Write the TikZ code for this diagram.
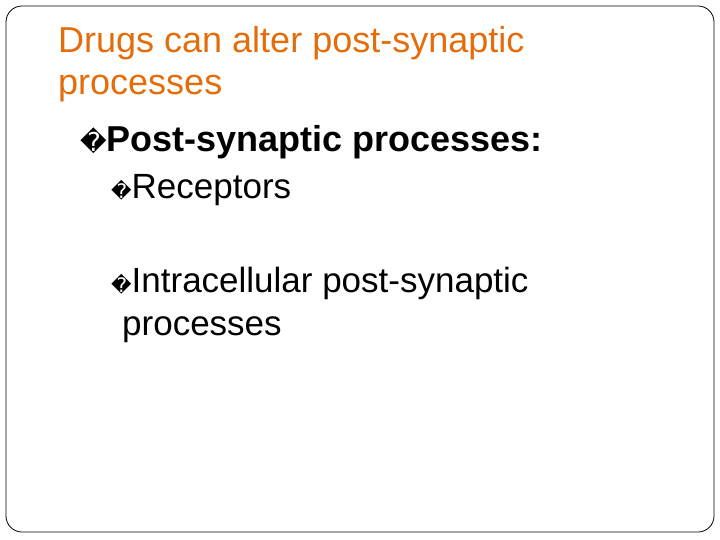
\documentclass[tikz,border=0pt]{standalone}
\usepackage{fontspec}
\setmainfont{Liberation Sans}
\newfontfamily\symf{DejaVu Sans}
\definecolor{ttl}{RGB}{228,108,10}
\begin{document}
\begin{tikzpicture}[x=1pt,y=-1pt,
  txt/.style={anchor=base west,inner sep=0pt,font=\fontsize{35}{40}\selectfont}]
\useasboundingbox (0,0) rectangle (720,540);
\draw[rounded corners=16pt,line width=0.8pt] (6,6) rectangle (714,532);
\node[txt,text=ttl,font=\fontsize{36}{40}\selectfont] (t1) at (58,53) {Drugs can alter post-synaptic};
\node[txt,text=ttl,font=\fontsize{36}{40}\selectfont] (t2) at (58,95) {processes};
\node[txt,font=\fontsize{36}{40}\selectfont\bfseries] (b1) at (80,152) {{\symf\mdseries\fontsize{26}{30}\selectfont �}Post-synaptic processes:};
\node[txt] (b2) at (111,199) {{\symf\fontsize{20}{24}\selectfont �}Receptors};
\node[txt] (b3) at (111,292) {{\symf\fontsize{20}{24}\selectfont �}Intracellular post-synaptic};
\node[txt] (b4) at (122,335) {processes};
\end{tikzpicture}
\end{document}
